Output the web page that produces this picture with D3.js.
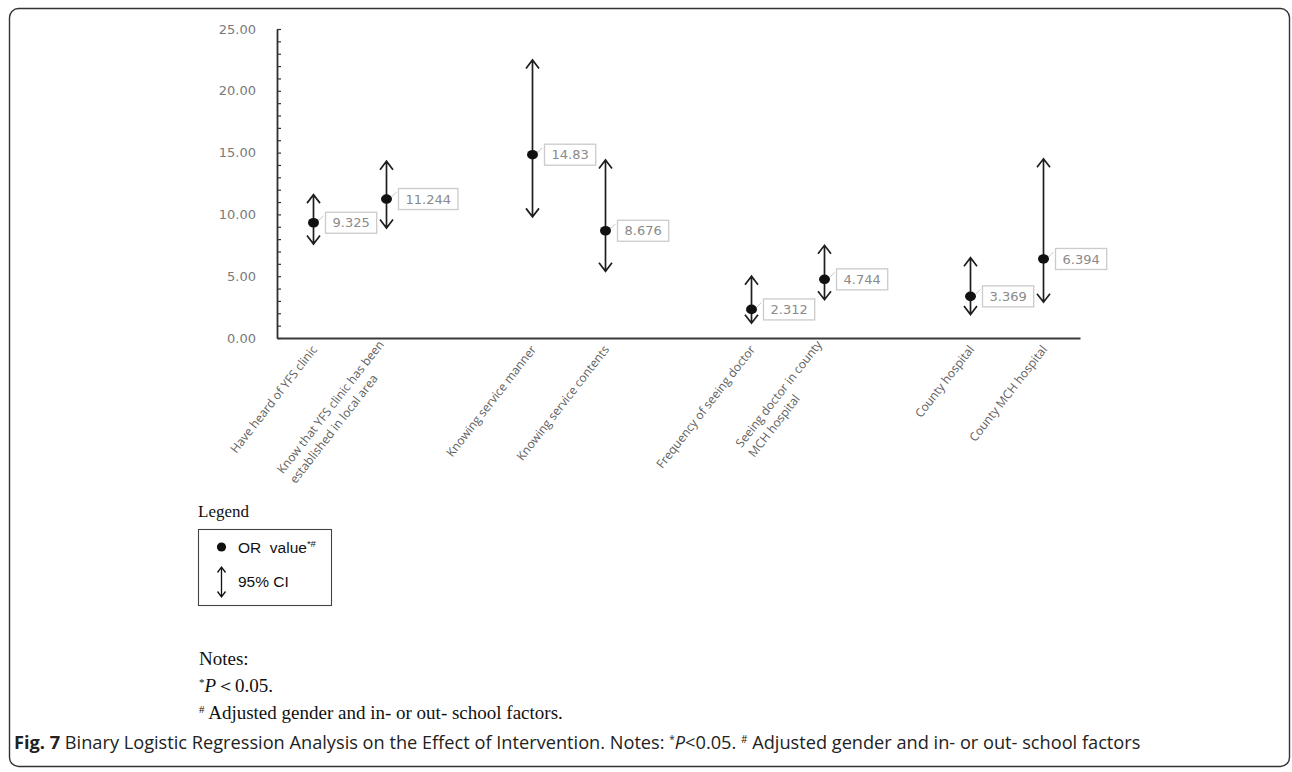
<!DOCTYPE html>
<html>
<head>
<meta charset="utf-8">
<script src="https://cdn.jsdelivr.net/npm/d3@7"></script>
<style>
  html, body { margin: 0; padding: 0; background: #fff; }
  svg { display: block; }
  text { white-space: pre; }
</style>
</head>
<body>
<svg id="chart" width="1292" height="772"></svg>
<script>
// Factors (line breaks mark two-line axis labels), grouped in pairs on the axis
const categories = [
  "Have heard of YFS clinic",
  "Know that YFS clinic has been\nestablished in local area",
  "Knowing service manner",
  "Knowing service contents",
  "Frequency of seeing doctor",
  "Seeing doctor in county\nMCH hospital",
  "County hospital",
  "County MCH hospital"
];
const groupSize = 2;

// Odds ratios and 95% confidence limits
const orValues = [9.325, 11.244, 14.83, 8.676, 2.312, 4.744, 3.369, 6.394];
const ciLower  = [7.6, 8.9, 9.8, 5.4, 1.2, 3.1, 1.9, 2.9];
const ciUpper  = [11.6, 14.3, 22.5, 14.4, 5.0, 7.5, 6.5, 14.5];

const yMajorTicks = [0, 5, 10, 15, 20, 25];
const yMinorStep = 1;

const svg = d3.select("#chart");

// Figure frame
svg.append("rect")
  .attr("x", 9.5).attr("y", 8.5)
  .attr("width", 1280).attr("height", 758)
  .attr("rx", 9).attr("ry", 9)
  .attr("fill", "none").attr("stroke", "#333").attr("stroke-width", 1.4);

// Category domain with an empty spacer slot between each pair
const domain = [];
categories.forEach((c, i) => {
  domain.push(c);
  if ((i + 1) % groupSize === 0 && i < categories.length - 1) domain.push("__gap" + i);
});

const x = d3.scaleBand().domain(domain).range([277, 1080]).paddingInner(0).paddingOuter(0);
const cx = c => x(c) + x.bandwidth() / 2;
const y = d3.scaleLinear().domain([0, 25]).range([338, 29]);

// Y axis: ticks every unit pointing inward, labels at multiples of 5
const yAxis = d3.axisLeft(y)
  .tickValues(d3.range(0, 25 + yMinorStep / 2, yMinorStep))
  .tickSizeInner(-4).tickSizeOuter(0).tickPadding(21)
  .tickFormat(d => yMajorTicks.includes(d) ? d3.format(".2f")(d) : "");
const gy = svg.append("g").attr("transform", "translate(277,0)").call(yAxis);
gy.select(".domain").attr("stroke", "#2e2e2e").attr("stroke-width", 1.8);
gy.selectAll(".tick line").attr("stroke", "#333").attr("stroke-width", 1.2);
gy.selectAll(".tick text")
  .attr("fill", "#7a7a7a")
  .style("font-family", "'DejaVu Sans', Verdana, sans-serif")
  .style("font-size", "13px");

// X axis baseline
const xAxis = d3.axisBottom(x).tickValues([]).tickSizeOuter(0);
const gx = svg.append("g").attr("transform", "translate(0,338)").call(xAxis);
gx.select(".domain").attr("stroke", "#3a3a3a").attr("stroke-width", 2);

// Rotated category labels, left-aligned lines ending at the slot centre
const angle = -52;
const lineH = 16;
categories.forEach(c => {
  const lines = c.split("\n");
  const g = svg.append("g")
    .attr("transform", `translate(${cx(c) + 1},347) rotate(${angle})`);
  const texts = lines.map((ln, i) => g.append("text")
    .attr("y", (i - (lines.length - 1) / 2) * lineH)
    .attr("dy", "0.35em")
    .attr("fill", "#606060")
    .style("font-family", "'Open Sans', sans-serif")
    .style("font-size", "12px")
    .text(ln));
  const maxW = d3.max(texts, t => t.node().getComputedTextLength());
  texts.forEach(t => t.attr("x", -maxW));
});

// Double-headed arrow path for a CI
function arrowPath(xc, yTop, yBot, hw, hh) {
  return `M${xc},${yTop}V${yBot}` +
    `M${xc - hw},${yTop + hh}L${xc},${yTop}L${xc + hw},${yTop + hh}` +
    `M${xc - hw},${yBot - hh}L${xc},${yBot}L${xc + hw},${yBot - hh}`;
}

const data = categories.map((c, i) => ({ c, or: orValues[i], lo: ciLower[i], hi: ciUpper[i] }));

const marks = svg.append("g");
marks.selectAll("path.ci").data(data).join("path")
  .attr("class", "ci")
  .attr("d", d => arrowPath(cx(d.c), y(d.hi), y(d.lo), 6.5, 8.5))
  .attr("fill", "none").attr("stroke", "#1e1e1e").attr("stroke-width", 1.7)
  .attr("stroke-linejoin", "miter");

// Leader ticks towards the value boxes
marks.selectAll("line.leader").data(data).join("line")
  .attr("class", "leader")
  .attr("x1", d => cx(d.c) + 5).attr("y1", d => y(d.or) - 2)
  .attr("x2", d => cx(d.c) + 10).attr("y2", d => y(d.or) - 7)
  .attr("stroke", "#c8c8c8").attr("stroke-width", 1);

marks.selectAll("ellipse.or").data(data).join("ellipse")
  .attr("class", "or")
  .attr("cx", d => cx(d.c)).attr("cy", d => y(d.or))
  .attr("rx", 5.5).attr("ry", 4.8)
  .attr("fill", "#111");

// Value boxes
data.forEach(d => {
  const g = svg.append("g").attr("transform", `translate(${cx(d.c) + 12},${y(d.or)})`);
  const rect = g.append("rect");
  const t = g.append("text")
    .attr("x", 7).attr("dy", "0.36em")
    .attr("fill", "#8a8a8a")
    .style("font-family", "'DejaVu Sans', Verdana, sans-serif")
    .style("font-size", "13px")
    .text(String(d.or));
  const w = t.node().getComputedTextLength() + 14;
  rect.attr("x", 0).attr("y", -10.5).attr("width", w).attr("height", 21)
    .attr("fill", "#fff").attr("stroke", "#cbcbcb").attr("stroke-width", 1.3);
});

// Legend
const serif = "'Liberation Serif', 'Times New Roman', serif";
const sans = "'Liberation Sans', Arial, sans-serif";
svg.append("text").attr("x", 198).attr("y", 517)
  .style("font-family", serif).style("font-size", "17px").attr("fill", "#111")
  .text("Legend");
svg.append("rect").attr("x", 198.5).attr("y", 529.5).attr("width", 133).attr("height", 76)
  .attr("fill", "none").attr("stroke", "#444").attr("stroke-width", 1.1);
svg.append("circle").attr("cx", 221.5).attr("cy", 547).attr("r", 4.6).attr("fill", "#111");
const orText = svg.append("text").attr("x", 238).attr("y", 553)
  .style("font-family", sans).style("font-size", "15.5px").attr("fill", "#111");
orText.append("tspan").text("OR  value");
orText.append("tspan").attr("dy", -6).style("font-size", "9.5px").text("*#");
svg.append("path").attr("d", arrowPath(221.5, 567, 597, 4, 5.5))
  .attr("fill", "none").attr("stroke", "#111").attr("stroke-width", 1.3);
svg.append("text").attr("x", 238).attr("y", 587)
  .style("font-family", sans).style("font-size", "15.5px").attr("fill", "#111")
  .text("95% CI");

// Notes
svg.append("text").attr("x", 199).attr("y", 665)
  .style("font-family", serif).style("font-size", "19px").attr("fill", "#111")
  .text("Notes:");
const n1 = svg.append("text").attr("x", 199).attr("y", 692)
  .style("font-family", serif).style("font-size", "19px").attr("fill", "#111");
n1.append("tspan").attr("dy", -6).style("font-size", "11px").text("*");
n1.append("tspan").attr("dy", 6).style("font-style", "italic").text("P");
n1.append("tspan").text("＜0.05.");
const n2 = svg.append("text").attr("x", 199).attr("y", 719)
  .style("font-family", serif).style("font-size", "19px").attr("fill", "#111");
n2.append("tspan").attr("dy", -6).style("font-size", "11px").text("#");
n2.append("tspan").attr("dy", 6).text(" Adjusted gender and in- or out- school factors.");

// Caption
const cap = svg.append("text").attr("x", 14).attr("y", 749)
  .style("font-family", "'Open Sans', sans-serif").style("font-size", "15px").attr("fill", "#222");
cap.append("tspan").style("font-weight", "bold").text("Fig. 7");
cap.append("tspan").text(" Binary Logistic Regression Analysis on the Effect of Intervention. Notes: ");
cap.append("tspan").attr("dy", -6).style("font-size", "10px").text("*");
cap.append("tspan").attr("dy", 6).style("font-style", "italic").text("P");
cap.append("tspan").text("<0.05. ");
cap.append("tspan").attr("dy", -6).style("font-size", "10px").text("#");
cap.append("tspan").attr("dy", 6).text(" Adjusted gender and in- or out- school factors");
const capW = cap.node().getComputedTextLength();
cap.style("font-size", (15 * 1129 / capW).toFixed(2) + "px");
</script>
</body>
</html>
